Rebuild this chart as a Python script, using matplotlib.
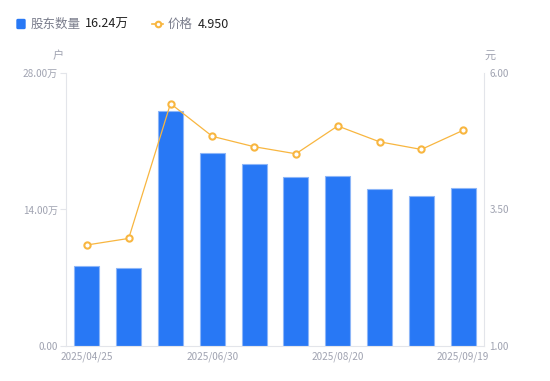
import matplotlib
matplotlib.use("Agg")
import matplotlib.pyplot as plt
from matplotlib.lines import Line2D
import numpy as np

plt.rcParams['font.family'] = ['Noto Sans CJK SC', 'DejaVu Sans']

# Data
dates = ["2025/04/25", "", "", "2025/06/30", "", "", "2025/08/20", "", "", "2025/09/19"]
holders = [8.20, 7.97, 24.10, 19.76, 18.63, 17.30, 17.40, 16.10, 15.42, 16.24]  # 万户
prices = [2.85, 2.97, 5.44, 4.84, 4.65, 4.52, 5.03, 4.74, 4.60, 4.95]
left_ticks = [0.0, 14.0, 28.0]
left_tick_labels = ["0.00", "14.00万", "28.00万"]
right_ticks = [1.0, 3.5, 6.0]

BLUE = "#2878F5"
ORANGE = "#F8B640"
GRAY = "#A0A3B1"
AXC = "#E3E5EA"

fig = plt.figure(figsize=(5.5, 3.81), dpi=100)
ax = fig.add_axes([0.12, 0.0919, 0.76, 0.7165])
ax2 = ax.twinx()

x = np.arange(len(holders))
ax.bar(x, holders, width=0.6, color=BLUE, edgecolor="#8DB6F8", linewidth=0.8, zorder=2)
ax.set_xlim(-0.5, len(holders) - 0.5)
ax.set_ylim(0, 28)
ax.set_yticks(left_ticks)
ax.set_yticklabels(left_tick_labels)
ax.set_xticks([i for i, d in enumerate(dates) if d])
ax.set_xticklabels([d for d in dates if d])

ax2.plot(x, prices, color=ORANGE, linewidth=0.9, marker="o", markersize=4.5,
         markerfacecolor="white", markeredgecolor=ORANGE, markeredgewidth=1.5, zorder=3)
ax2.set_ylim(1, 6)
ax2.set_yticks(right_ticks)
ax2.set_yticklabels([f"{v:.2f}" for v in right_ticks])

for a in (ax, ax2):
    for s in a.spines.values():
        s.set_visible(False)
    a.tick_params(colors=GRAY, labelsize=7.2, length=4, width=0.8, color=AXC, pad=2)

ax.spines['left'].set_visible(True)
ax.spines['left'].set_color(AXC)
ax.spines['bottom'].set_visible(True)
ax.spines['bottom'].set_color(AXC)
ax2.spines['right'].set_visible(True)
ax2.spines['right'].set_color(AXC)
ax.tick_params(axis='x', length=0, pad=4)
ax2.tick_params(axis='y', length=0, pad=4)

# Axis unit labels
fig.text(58 / 550, 1 - 56 / 381, "户", color=GRAY, fontsize=8, ha="center", va="center")
fig.text(490 / 550, 1 - 56 / 381, "元", color=GRAY, fontsize=8, ha="center", va="center")

# Legend header
ly = 1 - 24 / 381
fig.patches.append(matplotlib.patches.FancyBboxPatch((17 / 550, ly - 4.5 / 381), 8 / 550, 9 / 381,
                   boxstyle="round,pad=0,rounding_size=0.002", transform=fig.transFigure,
                   color=BLUE, figure=fig))
fig.text(31 / 550, ly, "股东数量", color="#7A7D8C", fontsize=9, va="center")
fig.text(85 / 550, ly, "16.24万", color="#222222", fontsize=9, va="center")
fig.lines.append(Line2D([152 / 550, 163 / 550], [ly, ly], color=ORANGE, linewidth=1.2,
                        transform=fig.transFigure, figure=fig))
fig.lines.append(Line2D([157.5 / 550], [ly], color=ORANGE, marker="o", markersize=4,
                        markerfacecolor="white", markeredgewidth=1.5,
                        transform=fig.transFigure, figure=fig))
fig.text(168 / 550, ly, "价格", color="#7A7D8C", fontsize=9, va="center")
fig.text(198 / 550, ly, "4.950", color="#222222", fontsize=9, va="center")

fig.savefig("out.png", dpi=100)
